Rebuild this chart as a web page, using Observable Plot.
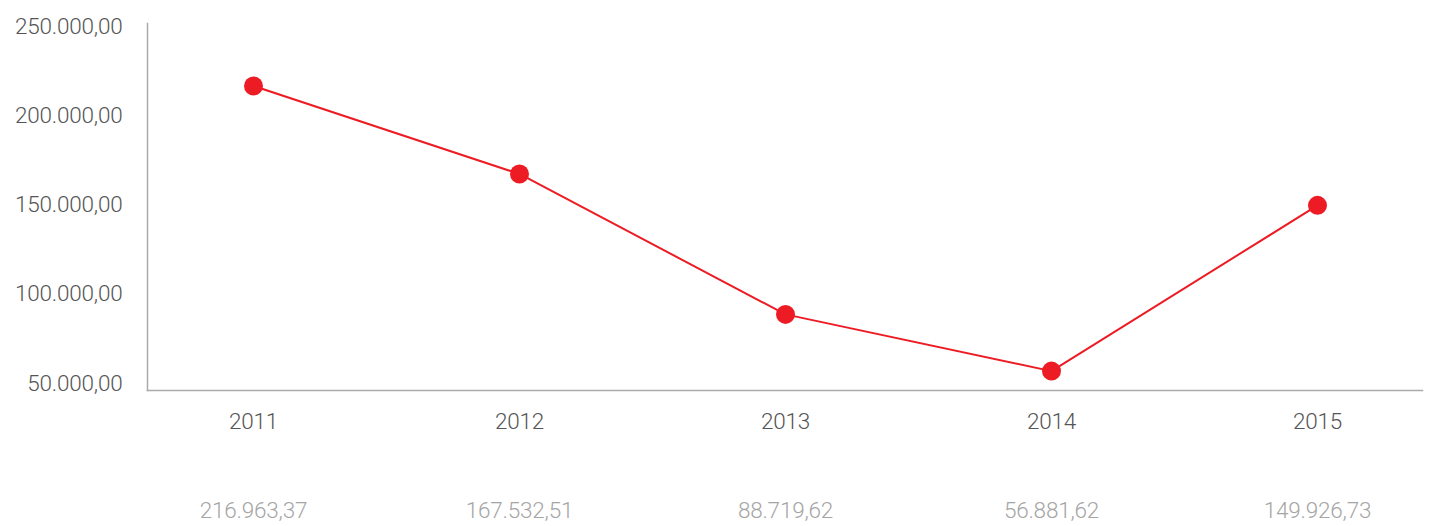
<!DOCTYPE html>
<html>
<head>
<meta charset="utf-8">
<script src="https://cdn.jsdelivr.net/npm/d3@7"></script>
<script src="https://cdn.jsdelivr.net/npm/@observablehq/plot@0.6"></script>
<style>
  html, body { margin: 0; padding: 0; background: #fff; }
  #chart svg { display: block; }
</style>
</head>
<body>
<div id="chart"></div>
<script>
const years = ["2011", "2012", "2013", "2014", "2015"];
const values = [216963.37, 167532.51, 88719.62, 56881.62, 149926.73];
const yTicks = [50000, 100000, 150000, 200000, 250000];

const data = years.map((y, i) => ({year: y, value: values[i]}));
const loc = d3.formatLocale({decimal: ",", thousands: ".", grouping: [3], currency: ["", ""]});
const fmt = loc.format(",.2f");

const red = "#ed1c24";
const chart = Plot.plot({
  width: 1436,
  height: 526,
  marginTop: 23,
  marginBottom: 136,
  marginLeft: 147,
  marginRight: 14,
  style: {fontFamily: "Roboto", fontSize: "22.5px", fontWeight: 300, color: "#555", background: "#fff", letterSpacing: "-0.2px"},
  x: {type: "point", domain: years, padding: 0.39},
  y: {domain: [46000, 252000]},
  marks: [
    Plot.axisY({ticks: yTicks, tickFormat: fmt, tickSize: 0, tickPadding: 25, label: null, fill: "#555"}),
    Plot.axisX({tickSize: 0, tickPadding: 23, label: null, fill: "#555"}),
    Plot.frame({anchor: "left", stroke: "#aaa", strokeWidth: 1.5, strokeOpacity: 1}),
    Plot.frame({anchor: "bottom", stroke: "#aaa", strokeWidth: 1.5, strokeOpacity: 1}),
    Plot.line(data, {x: "year", y: "value", stroke: red, strokeWidth: 2}),
    Plot.dot(data, {x: "year", y: "value", r: 9.5, fill: red}),
    Plot.text(data, {x: "year", text: d => fmt(d.value), frameAnchor: "bottom", dy: 120, lineAnchor: "middle", fill: "#a5a5a5", fontSize: 22.5})
  ]
});
document.getElementById("chart").appendChild(chart);
</script>
</body>
</html>
